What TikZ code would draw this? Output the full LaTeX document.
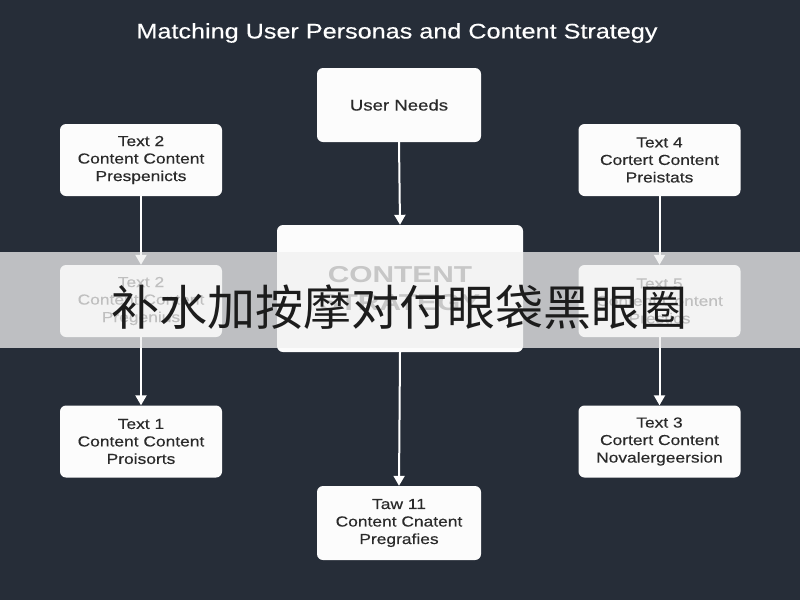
\documentclass[tikz,border=0pt]{standalone}
\usepackage{fontspec}
\setmainfont[FakeStretch=1.2,FakeBold=0.4]{Liberation Sans}
\newfontfamily\widefont[FakeStretch=1.3]{Liberation Sans}
\newfontfamily\cjk{Noto Sans CJK SC}
\usetikzlibrary{arrows.meta}
\definecolor{bgdark}{HTML}{262D38}
\definecolor{boxfill}{HTML}{FCFCFC}
\definecolor{boxtext}{HTML}{2A2A2A}
\definecolor{bandcol}{HTML}{F1F1F1}
\definecolor{bigtext}{HTML}{4A4A4A}
\definecolor{cjktext}{HTML}{1C1C1C}
\begin{document}
\begin{tikzpicture}[x=1pt,y=-1pt,
  card/.style={draw=none,fill=boxfill,rounded corners=6pt,inner sep=0pt,
    align=center,text=boxtext,font=\fontsize{14.5}{17.5}\selectfont},
  sidecard/.style={card,minimum width=162pt,minimum height=72pt},
  midcard/.style={card,minimum width=164pt,minimum height=74pt},
  flow/.style={draw=white,line width=2pt,-{Triangle[width=11pt,length=10pt]}}]
\useasboundingbox (0,0) rectangle (800,600);
\fill[bgdark] (0,0) rectangle (800,600);
\node[text=white,font=\fontsize{21}{25}\selectfont] (title) at (397,33) {Matching User Personas and Content Strategy};
\node[midcard,font=\fontsize{15.5}{18}\selectfont] (needs) at (399,105) {User Needs};
\node[card,minimum width=246pt,minimum height=127pt,text=bigtext,
  font=\widefont\bfseries\fontsize{23}{28}\selectfont] (core) at (400,288.5) {CONTENT\\STRATEGY};
\node[midcard] (t11) at (399,523) {Taw 11\\Content Cnatent\\Pregrafies};
\node[sidecard] (t2a) at (141,160) {Text 2\\Content Content\\Prespenicts};
\node[sidecard] (t2b) at (141,301) {Text 2\\Content Content\\Pregenius};
\node[sidecard] (t1) at (141,441.5) {Text 1\\Content Content\\Proisorts};
\node[sidecard] (t4) at (659.5,160) {Text 4\\Cortert Content\\Preistats};
\node[sidecard] (t5) at (659.5,301) {Text 5\\Content Content\\Prestics};
\node[sidecard] (t3) at (659.5,441.5) {Text 3\\Cortert Content\\Novalergeersion};
\draw[flow] (needs.south) -- (core.north);
\draw[flow] (core.south) -- (t11.north);
\draw[flow] (t2a.south) -- (t2b.north);
\draw[flow] (t2b.south) -- (t1.north);
\draw[flow] (t4.south) -- (t5.north);
\draw[flow] (t5.south) -- (t3.north);
\fill[bandcol,fill opacity=0.75] (0,252) rectangle (800,348);
\node[text=cjktext,font=\cjk\fontsize{48}{52}\selectfont,inner sep=0pt] (band) at (399,307) {补水加按摩对付眼袋黑眼圈};
\end{tikzpicture}
\end{document}
